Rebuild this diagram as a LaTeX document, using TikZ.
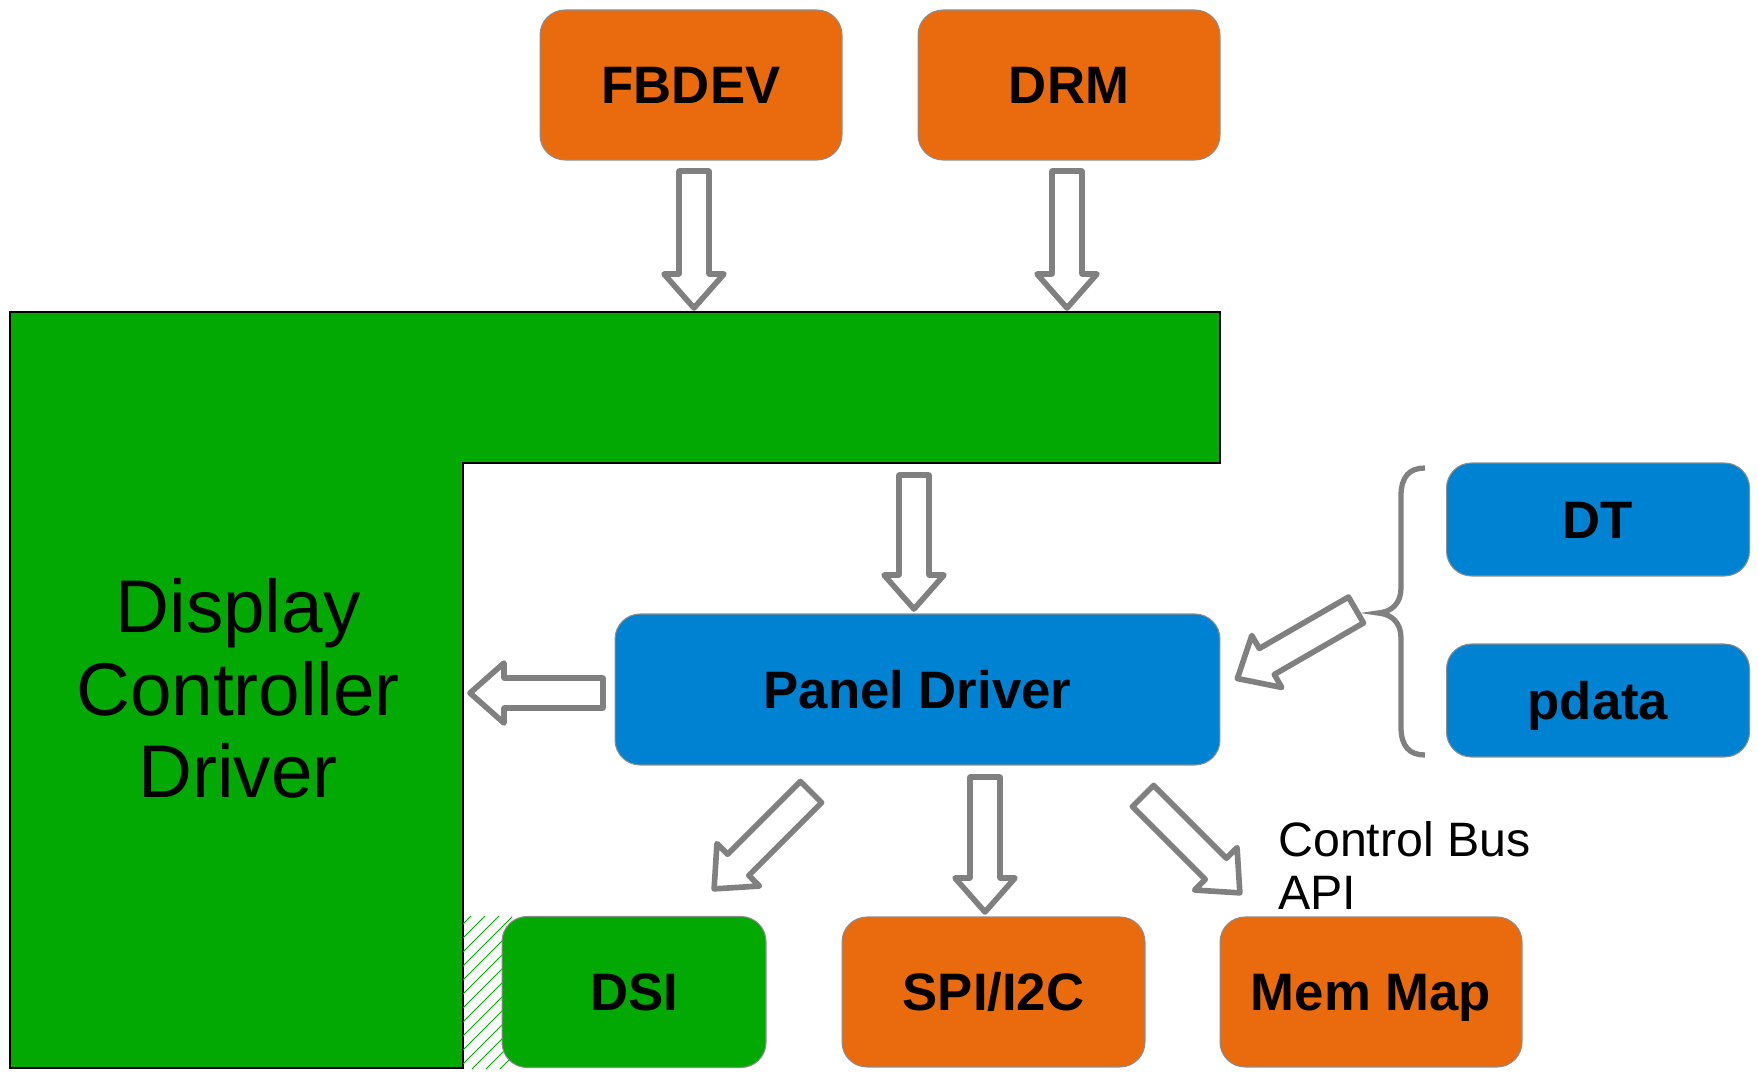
\documentclass[tikz,border=0pt]{standalone}
\usepackage{fontspec}
\setmainfont{Liberation Sans}
\usetikzlibrary{calc}
\definecolor{boxorange}{RGB}{234,106,14}
\definecolor{boxgreen}{RGB}{2,169,2}
\definecolor{boxblue}{RGB}{0,130,210}
\definecolor{arrowgray}{RGB}{128,128,128}
\definecolor{edgegray}{RGB}{140,140,140}
\newcommand{\hollowarrow}[3]{%
  \begin{scope}[shift={#1}, rotate=#2]
    \draw[harrow] (0,15) -- ({#3-34},15) -- ({#3-34},30) -- (#3,0) -- ({#3-34},-30) -- ({#3-34},-15) -- (0,-15) -- cycle;
  \end{scope}}
\begin{document}
\begin{tikzpicture}[x=0.02cm,y=-0.02cm,
  rbox/.style={rectangle, rounded corners=0.5cm, draw=edgegray, line width=0.6pt,
    inner sep=0pt, text height=21.5pt, text depth=0pt,
    font=\fontsize{30}{34}\selectfont\bfseries},
  obox/.style={rbox, fill=boxorange},
  bbox/.style={rbox, fill=boxblue},
  gbox/.style={rbox, fill=boxgreen},
  harrow/.style={draw=arrowgray, fill=white, line width=3.2pt, line join=round},
  bracestyle/.style={draw=arrowgray, line width=3pt, line cap=butt}]
\useasboundingbox (0,0) rectangle (1759,1072);
\fill[white] (0,0) rectangle (1759,1072);

% Display controller driver L-shape
\filldraw[fill=boxgreen, draw=black, line width=0.6pt]
  (10,312) -- (1220,312) -- (1220,463) -- (463,463) -- (463,1068) -- (10,1068) -- cycle;
\node[anchor=north, inner sep=0pt, align=center,
  font=\fontsize{42.5}{47}\selectfont] (dcd) at (238,578) {Display\\Controller\\Driver};

% hatch left of DSI
\begin{scope}
  \clip (463,916) rectangle (512,1068);
  \foreach \i in {0,...,16} {
    \draw[boxgreen, line width=0.5pt] (455,{918+14*\i}) -- ++(80,-80);
  }
\end{scope}

% top boxes
\node[obox, minimum width=6.04cm, minimum height=3.0cm] (fbdev) at (691,85) {FBDEV};
\node[obox, minimum width=6.04cm, minimum height=3.0cm] (drm) at (1069,85) {DRM};

% panel driver
\node[bbox, minimum width=12.1cm, minimum height=3.02cm] (panel) at (917.5,689.5) {Panel Driver};

% DT / pdata
\node[bbox, minimum width=6.06cm, minimum height=2.26cm] (dt) at (1598,519.5) {DT};
\node[bbox, minimum width=6.06cm, minimum height=2.26cm] (pdata) at (1598,700.5) {pdata};

% bottom boxes
\node[gbox, minimum width=5.28cm, minimum height=3.02cm] (dsi) at (634,992) {DSI};
\node[obox, minimum width=6.06cm, minimum height=3.0cm] (spi) at (993.5,992) {SPI/I2C};
\node[obox, minimum width=6.04cm, minimum height=3.0cm] (memmap) at (1371,992) {Mem Map};

\node[anchor=north west, inner sep=0pt, align=left,
  font=\fontsize{27.5}{30}\selectfont] (cbapi) at (1278,821) {Control Bus\\API};

% brace
\draw[bracestyle] (1425,468) .. controls (1410,468) and (1401,476) .. (1401,496)
  -- (1401,588) .. controls (1401,603) and (1392,612) .. (1378,613)
  .. controls (1392,614) and (1401,623) .. (1401,638)
  -- (1401,727) .. controls (1401,747) and (1410,755) .. (1425,755);

% arrow start points
\coordinate (afb) at (694,171);
\coordinate (adrm) at (1067,171);
\coordinate (agp) at (914,475);
\coordinate (apl) at (603,693);
\coordinate (abr) at (1356,610);
\coordinate (adsi) at (811,792);
\coordinate (aspi) at (985,777);
\coordinate (amem) at (1143,796);

\hollowarrow{(afb)}{-90}{137}
\hollowarrow{(adrm)}{-90}{137}
\hollowarrow{(agp)}{-90}{134}
\hollowarrow{(apl)}{180}{133}
\hollowarrow{(abr)}{-150}{137}
\hollowarrow{(adsi)}{-135}{137}
\hollowarrow{(aspi)}{-90}{135}
\hollowarrow{(amem)}{-45}{137}
\end{tikzpicture}
\end{document}
